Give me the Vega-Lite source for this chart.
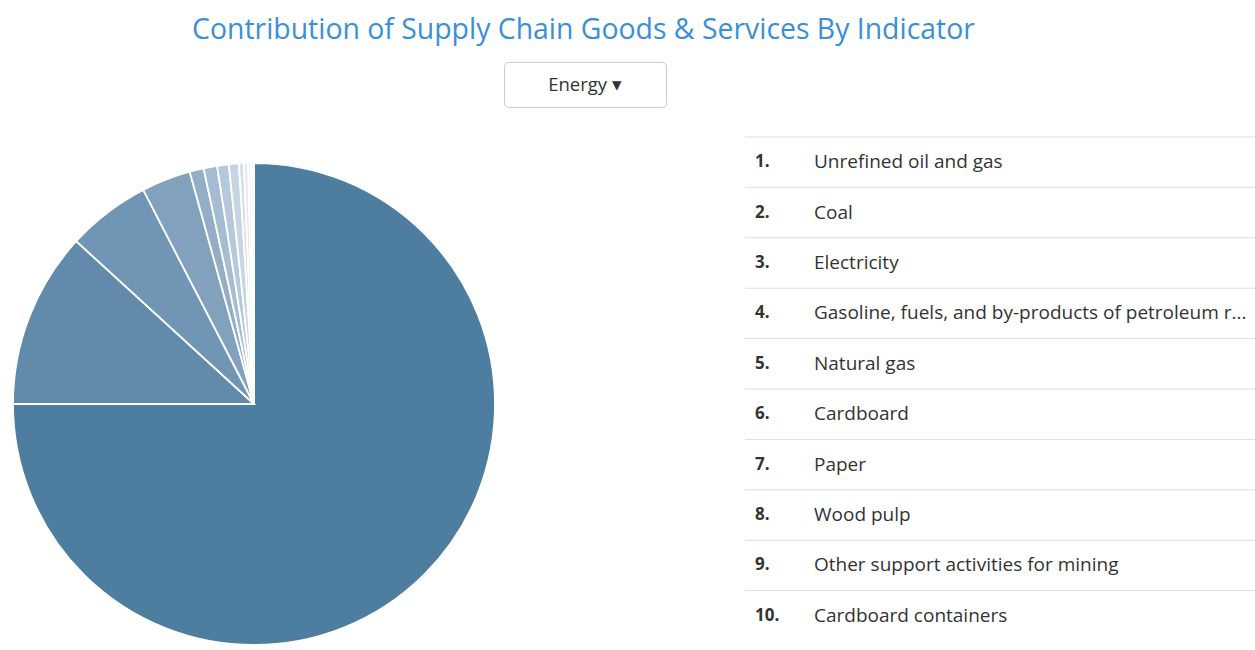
{
  "$schema": "https://vega.github.io/schema/vega-lite/v6.json",
  "padding": {"left": 9, "top": 16, "right": 0, "bottom": 0},
  "background": "white",
  "config": {"view": {"stroke": null}, "font": "Open Sans"},
  "title": {
    "text": "Contribution of Supply Chain Goods & Services By Indicator",
    "font": "Open Sans",
    "fontSize": 28.4,
    "fontWeight": "normal",
    "color": "#3b8fd6",
    "anchor": "middle",
    "dx": -49,
    "offset": 16
  },
  "datasets": {
    "items": [
      {"rank": 1, "num": "1.", "name": "Unrefined oil and gas", "share": 75.0},
      {"rank": 2, "num": "2.", "name": "Coal", "share": 11.8},
      {"rank": 3, "num": "3.", "name": "Electricity", "share": 5.6},
      {"rank": 4, "num": "4.", "name": "Gasoline, fuels, and by-products of petroleum refineries", "share": 3.3},
      {"rank": 5, "num": "5.", "name": "Natural gas", "share": 0.95},
      {"rank": 6, "num": "6.", "name": "Cardboard", "share": 0.9},
      {"rank": 7, "num": "7.", "name": "Paper", "share": 0.78},
      {"rank": 8, "num": "8.", "name": "Wood pulp", "share": 0.67},
      {"rank": 9, "num": "9.", "name": "Other support activities for mining", "share": 0.33},
      {"rank": 10, "num": "10.", "name": "Cardboard containers", "share": 0.28},
      {"rank": 11, "num": "11.", "name": "Other", "share": 0.2},
      {"rank": 12, "num": "12.", "name": "Other", "share": 0.19}
    ]
  },
  "spacing": 77,
  "hconcat": [
    {
      "spacing": 51,
      "vconcat": [
        {
          "spacing": 0,
          "hconcat": [
            {
              "width": 490,
              "height": 45,
              "data": {"values": [{"t": ""}]},
              "mark": {"type": "text"},
              "encoding": {"text": {"field": "t"}}
            },
            {
              "width": 162,
              "height": 45,
              "view": {"stroke": "#cccccc", "strokeWidth": 1, "cornerRadius": 4},
              "data": {"values": [{"label": "Energy ▾"}]},
              "mark": {"type": "text", "font": "Open Sans", "fontSize": 18.5, "color": "#333333", "align": "center", "baseline": "middle"},
              "encoding": {"text": {"field": "label"}}
            }
          ]
        },
        {
          "width": 482,
          "height": 482,
          "data": {"name": "items"},
          "mark": {"type": "arc", "outerRadius": 241, "stroke": "white", "strokeWidth": 1.8},
          "encoding": {
            "theta": {"field": "share", "type": "quantitative", "stack": true},
            "order": {"field": "rank", "type": "quantitative"},
            "color": {
              "field": "rank",
              "type": "ordinal",
              "legend": null,
              "scale": {
                "domain": [1, 2, 3, 4, 5, 6, 7, 8, 9, 10, 11, 12],
                "range": ["#4d7ea0", "#618aab", "#7196b5", "#82a1bd", "#94aec8", "#a6bcd2", "#b6c8db", "#c6d5e3", "#d5e0ea", "#e2e9f1", "#edf2f7", "#f6f8fb"]
              }
            }
          }
        }
      ]
    },
    {
      "width": 510,
      "height": 579,
      "data": {"name": "items"},
      "transform": [{"filter": "datum.rank <= 10"}],
      "encoding": {
        "y": {
          "field": "rank",
          "type": "ordinal",
          "axis": null,
          "scale": {"range": [75, 579], "paddingInner": 0, "paddingOuter": 0}
        }
      },
      "layer": [
        {
          "mark": {"type": "rule", "color": "#dddddd", "strokeWidth": 1},
          "encoding": {"y": {"field": "rank", "type": "ordinal", "bandPosition": 0, "axis": null}}
        },
        {
          "mark": {"type": "text", "font": "Open Sans", "fontSize": 17, "fontWeight": "bold", "color": "#333333", "align": "left", "baseline": "middle", "x": 10},
          "encoding": {"text": {"field": "num"}}
        },
        {
          "mark": {"type": "text", "font": "Open Sans", "fontSize": 19, "color": "#333333", "align": "left", "baseline": "middle", "x": 69, "limit": 434, "ellipsis": "..."},
          "encoding": {"text": {"field": "name"}}
        }
      ]
    }
  ]
}
